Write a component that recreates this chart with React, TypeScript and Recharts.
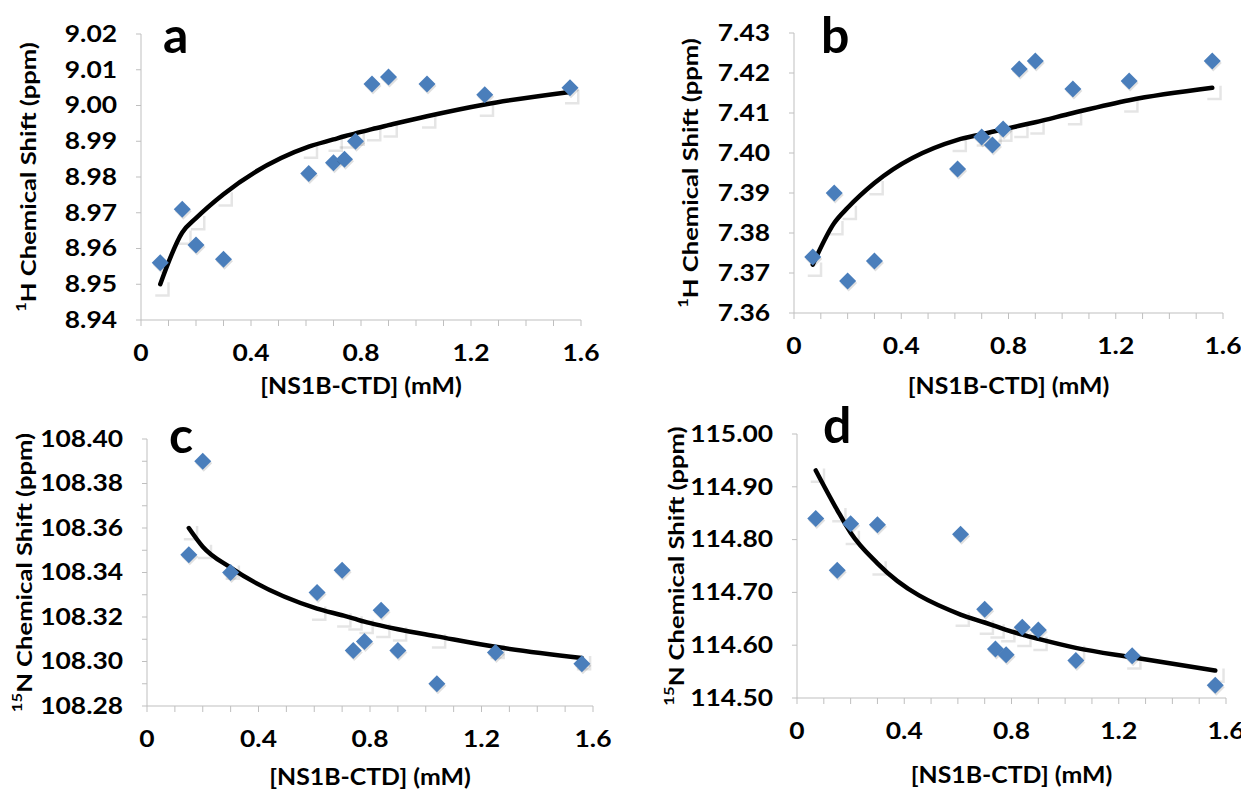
import React from 'react'
import { ComposedChart, Scatter, Line, XAxis, YAxis, Label } from 'recharts'

// [NS1B-CTD] concentrations (mM)
const CONC = [0.07, 0.15, 0.2, 0.3, 0.61, 0.7, 0.74, 0.78, 0.84, 0.9, 1.04, 1.25, 1.56]
const CONC_C = [0.15, 0.2, 0.3, 0.61, 0.7, 0.74, 0.78, 0.84, 0.9, 1.04, 1.25, 1.56]

const X_TICKS = [0, 0.1, 0.2, 0.3, 0.4, 0.5, 0.6, 0.7, 0.8, 0.9, 1.0, 1.1, 1.2, 1.3, 1.4, 1.5, 1.6]
const X_LABELS = [0, 0.4, 0.8, 1.2, 1.6]

// panel a: 1H
const A_OBS = [8.956, 8.971, 8.961, 8.957, 8.981, 8.984, 8.985, 8.99, 9.006, 9.008, 9.006, 9.003, 9.005]
const A_FIT = [8.95, 8.9645, 8.9685, 8.9752, 8.9885, 8.9905, 8.9914, 8.9922, 8.9934, 8.9945, 8.997, 9.0003, 9.0038]
const A_TICKS = [8.94, 8.95, 8.96, 8.97, 8.98, 8.99, 9.0, 9.01, 9.02]

// panel b: 1H
const B_OBS = [7.374, 7.39, 7.368, 7.373, 7.396, 7.404, 7.402, 7.406, 7.421, 7.423, 7.416, 7.418, 7.423]
const B_FIT = [7.3721, 7.3825, 7.3863, 7.3925, 7.4033, 7.4047, 7.4053, 7.4059, 7.4068, 7.4077, 7.41, 7.4132, 7.4163]
const B_TICKS = [7.36, 7.37, 7.38, 7.39, 7.4, 7.41, 7.42, 7.43]

// panel c: 15N
const C_OBS = [108.348, 108.39, 108.34, 108.331, 108.341, 108.305, 108.309, 108.323, 108.305, 108.29, 108.304, 108.299]
const C_FIT = [108.36, 108.3516, 108.3422, 108.3238, 108.3208, 108.3194, 108.3179, 108.3161, 108.3145, 108.3113, 108.3066, 108.3016]
const C_TICKS = [108.28, 108.29, 108.3, 108.31, 108.32, 108.33, 108.34, 108.35, 108.36, 108.37, 108.38, 108.39, 108.4]
const C_LABELS = [108.28, 108.3, 108.32, 108.34, 108.36, 108.38, 108.4]

// panel d: 15N
const D_OBS = [114.84, 114.742, 114.83, 114.828, 114.81, 114.668, 114.593, 114.582, 114.634, 114.629, 114.571, 114.58, 114.524]
const D_FIT = [114.931, 114.856, 114.813, 114.755, 114.658, 114.643, 114.636, 114.629, 114.62, 114.612, 114.595, 114.577, 114.552]
const D_TICKS = [114.5, 114.6, 114.7, 114.8, 114.9, 115.0]

const FONT = 'Lato, "Open Sans", sans-serif'
const AXIS = '#bfbfbf'
const BLUE = '#4a7ebb'
const STRETCH = 1.2 // the figure's text is a bit wide

const panels = [
  {
    letter: 'a', nucleus: '1', atom: 'H', conc: CONC, obs: A_OBS, fit: A_FIT,
    yTicks: A_TICKS, yLabels: A_TICKS, domain: [8.94, 9.02],
    left: 0, top: 0, width: 620, height: 400,
    plotLeft: 141, plotRight: 581, plotTop: 34, plotBottom: 320,
    yTitleX: 28, xTitleY: 385, letterX: 163, letterBase: 53,
  },
  {
    letter: 'b', nucleus: '1', atom: 'H', conc: CONC, obs: B_OBS, fit: B_FIT,
    yTicks: B_TICKS, yLabels: B_TICKS, domain: [7.36, 7.43],
    left: 620, top: 0, width: 621, height: 400,
    plotLeft: 174, plotRight: 603, plotTop: 33, plotBottom: 313,
    yTitleX: 70, xTitleY: 385, letterX: 201, letterBase: 53,
  },
  {
    letter: 'c', nucleus: '15', atom: 'N', conc: CONC_C, obs: C_OBS, fit: C_FIT,
    yTicks: C_TICKS, yLabels: C_LABELS, domain: [108.28, 108.4],
    left: 0, top: 400, width: 620, height: 392,
    plotLeft: 147, plotRight: 593, plotTop: 39, plotBottom: 306,
    yTitleX: 24, xTitleY: 376, letterX: 169, letterBase: 53,
  },
  {
    letter: 'd', nucleus: '15', atom: 'N', conc: CONC, obs: D_OBS, fit: D_FIT,
    yTicks: D_TICKS, yLabels: D_TICKS, domain: [114.5, 115.0],
    left: 620, top: 400, width: 621, height: 392,
    plotLeft: 177, plotRight: 606, plotTop: 34, plotBottom: 298,
    yTitleX: 56, xTitleY: 374, letterX: 203, letterBase: 43,
  },
]

const Diamond = (props: any) => {
  const { cx, cy } = props
  if (cx == null || cy == null) return null
  const r = 8.5
  return (
    <g>
      <path
        d={`M${cx + 1},${cy - r + 2}L${cx + r + 1},${cy + 2}L${cx + 1},${cy + r + 2}L${cx - r + 1},${cy + 2}Z`}
        fill="#000"
        opacity={0.12}
      />
      <path d={`M${cx},${cy - r}L${cx + r},${cy}L${cx},${cy + r}L${cx - r},${cy}Z`} fill={BLUE} />
    </g>
  )
}

// faint shadow of the fit series' white square markers (only the shadow shows on white)
const FitMark = (props: any) => {
  const { cx, cy, index } = props
  if (cx == null || cy == null) return null
  const s = 14
  const x0 = cx - s / 2
  const y0 = cy - s / 2 + 3
  return (
    <path
      key={`fm-${index}`}
      d={`M${x0 + s},${y0 + 2}h2.5v${s + 0.5}h-${s + 0.5}v-2.5h${s - 2}Z`}
      fill="#000"
      opacity={0.1}
    />
  )
}

const textStyle = { fill: '#000', fontSize: 22, fontWeight: 700, fontFamily: FONT }

const XTick = (props: any) => {
  const { x, y, payload } = props
  if (!X_LABELS.includes(payload.value)) return null
  return (
    <text transform={`translate(${x},${y}) scale(${STRETCH},1)`} textAnchor="middle" dy="0.71em" {...textStyle}>
      {String(payload.value)}
    </text>
  )
}

const makeYTick = (labels: number[]) => (props: any) => {
  const { x, y, payload } = props
  if (!labels.includes(payload.value)) return null
  return (
    <text transform={`translate(${x},${y}) scale(${STRETCH},1)`} textAnchor="end" dy="0.355em" {...textStyle}>
      {payload.value.toFixed(2)}
    </text>
  )
}

const ShiftPanel = ({ p }: { p: any }) => {
  const obs = p.conc.map((x: number, i: number) => ({ x, y: p.obs[i] }))
  const fit = p.conc.map((x: number, i: number) => ({ x, y: p.fit[i] }))
  const midX = (p.plotLeft + p.plotRight) / 2
  const midY = (p.plotTop + p.plotBottom) / 2

  return (
    <div style={{ position: 'absolute', left: p.left, top: p.top, width: p.width, height: p.height }}>
      <ComposedChart
        width={p.width}
        height={p.height}
        margin={{ top: p.plotTop, right: p.width - p.plotRight, bottom: 0, left: 0 }}
      >
        <XAxis
          type="number"
          dataKey="x"
          domain={[0, 1.6]}
          ticks={X_TICKS}
          interval={0}
          height={p.height - p.plotBottom}
          tickSize={6}
          tickMargin={19}
          axisLine={{ stroke: AXIS }}
          tickLine={{ stroke: AXIS }}
          tick={XTick}
        >
          <Label
            content={() => (
              <text
                transform={`translate(${midX},${p.xTitleY}) scale(1.08,1)`}
                textAnchor="middle"
                dominantBaseline="central"
                {...textStyle}
                fontSize={23}
              >
                [NS1B-CTD] (mM)
              </text>
            )}
          />
        </XAxis>
        <YAxis
          type="number"
          dataKey="y"
          domain={p.domain}
          allowDataOverflow
          ticks={p.yTicks}
          interval={0}
          width={p.plotLeft}
          tickSize={5}
          tickMargin={19}
          axisLine={{ stroke: AXIS }}
          tickLine={{ stroke: AXIS }}
          tick={makeYTick(p.yLabels)}
        >
          <Label
            content={() => (
              <text
                transform={`translate(${p.yTitleX},${midY}) rotate(-90) scale(1.28,1)`}
                textAnchor="middle"
                dominantBaseline="central"
                {...textStyle}
                fontSize={20}
              >
                <tspan fontSize={13} dy={-7}>{p.nucleus}</tspan>
                <tspan dy={7}>{p.atom} Chemical Shift (ppm)</tspan>
              </text>
            )}
          />
        </YAxis>
        <Line
          data={fit}
          dataKey="y"
          stroke="none"
          dot={FitMark}
          activeDot={false}
          isAnimationActive={false}
        />
        <Line
          data={fit}
          dataKey="y"
          type="monotone"
          stroke="#000"
          strokeWidth={4.5}
          strokeLinecap="round"
          dot={false}
          activeDot={false}
          isAnimationActive={false}
        />
        <Scatter data={obs} shape={Diamond} isAnimationActive={false} />
      </ComposedChart>
      <div
        style={{
          position: 'absolute',
          left: p.letterX,
          top: p.letterBase - 44,
          fontFamily: FONT,
          fontWeight: 700,
          fontSize: 50,
          lineHeight: '50px',
          color: '#000',
        }}
      >
        {p.letter}
      </div>
    </div>
  )
}

export default function App() {
  return (
    <div style={{ position: 'absolute', left: 0, top: 0, width: 1241, height: 792, background: '#fff' }}>
      {panels.map((p) => (
        <ShiftPanel key={p.letter} p={p} />
      ))}
    </div>
  )
}
